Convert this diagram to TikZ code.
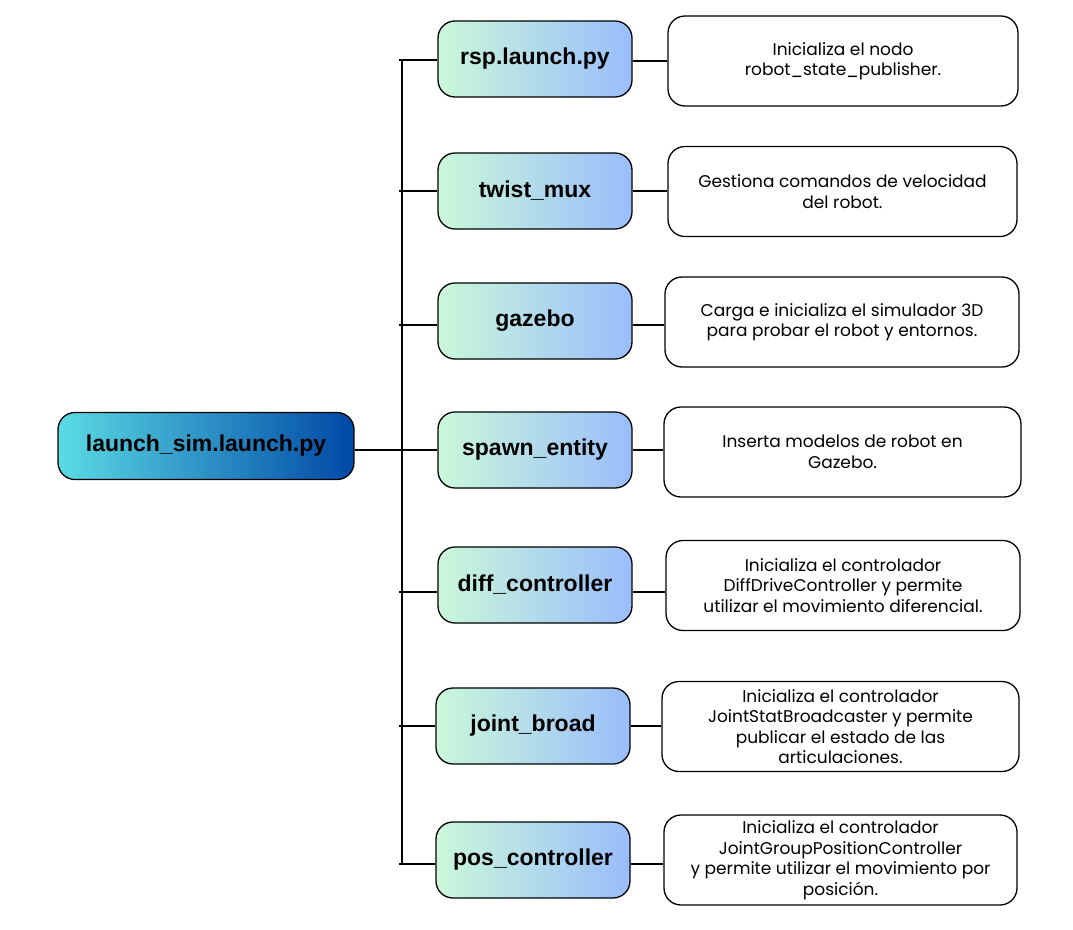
\documentclass[tikz,border=0pt]{standalone}
\usepackage{fontspec}
\setmainfont{Poppins}
\newfontfamily\labelfont{Liberation Sans}
\definecolor{mintgreen}{HTML}{CBF8DA}
\definecolor{skyblue}{HTML}{99BDFB}
\definecolor{rootcyan}{HTML}{5BDBE4}
\definecolor{rootblue}{HTML}{0048A6}
\begin{document}
\begin{tikzpicture}[x=1pt,y=-1pt]
\tikzstyle{every node}+=[inner sep=0pt]
\tikzstyle{launchbox}=[draw=black, line width=1.3pt, rounded corners=17pt, left color=mintgreen, right color=skyblue, minimum width=194pt, minimum height=76pt, font=\labelfont\bfseries\fontsize{23}{27}\selectfont]
\tikzstyle{descbox}=[draw=black, line width=1.3pt, rounded corners=17pt, fill=white, minimum height=90pt, align=center, font=\fontsize{17}{20.5}\selectfont]
\useasboundingbox (0,0) rectangle (1073,929);
% root
\node [draw=black, line width=1.3pt, rounded corners=17pt, left color=rootcyan, right color=rootblue, minimum width=296pt, minimum height=67pt, font=\labelfont\bfseries\fontsize{23}{27}\selectfont] (sim) at (206,446) {launch\_sim.launch.py};
% launch files
\node [launchbox] (rsp) at (535,59) {rsp.launch.py};
\node [launchbox] (twist) at (535,191) {twist\_mux};
\node [launchbox] (gazebo) at (535,321) {gazebo};
\node [launchbox] (spawn) at (535,450) {spawn\_entity};
\node [launchbox] (diff) at (535,585) {diff\_controller};
\node [launchbox] (joint) at (533,726) {joint\_broad};
\node [launchbox] (pos) at (533,860) {pos\_controller};
% descriptions
\node [descbox, minimum width=350pt] (drsp) at (843,61) {Inicializa el nodo\\robot\_state\_publisher.};
\node [descbox, minimum width=349pt] (dtwist) at (842.5,191.5) {Gestiona comandos de velocidad\\del robot.};
\node [descbox, minimum width=354pt] (dgazebo) at (842,322) {Carga e inicializa el simulador 3D\\para probar el robot y entornos.};
\node [descbox, minimum width=357pt] (dspawn) at (842.5,452) {Inserta modelos de robot en\\Gazebo.};
\node [descbox, minimum width=354pt] (ddiff) at (843,585.5) {Inicializa el controlador\\DiffDriveController y permite\\utilizar el movimiento diferencial.};
\node [descbox, minimum width=357pt] (djoint) at (840.5,726.5) {Inicializa el controlador\\JointStatBroadcaster y permite\\publicar el estado de las\\articulaciones.};
\node [descbox, minimum width=353pt] (dpos) at (840.5,860) {Inicializa el controlador\\JointGroupPositionController\\ y permite utilizar el movimiento por\\posici\'on.};
% bus
\coordinate (bustop) at (402,60);
\coordinate (busbot) at (402,864);
\draw [line width=1.3pt] (bustop) -- (busbot);
\draw [line width=1.3pt] (sim.east |- spawn.west) -- (spawn.west);
\foreach \n/\y in {rsp/60,twist/191,gazebo/325,diff/592,joint/726,pos/864}
  \draw [line width=1.3pt] (399,\y) -- (\n.west |- 0,\y);
\foreach \n/\d/\y in {rsp/drsp/61,twist/dtwist/191,gazebo/dgazebo/325,spawn/dspawn/450,diff/ddiff/592,joint/djoint/726,pos/dpos/864}
  \draw [line width=1.3pt] (\n.east |- 0,\y) -- (\d.west |- 0,\y);
\end{tikzpicture}
\end{document}
